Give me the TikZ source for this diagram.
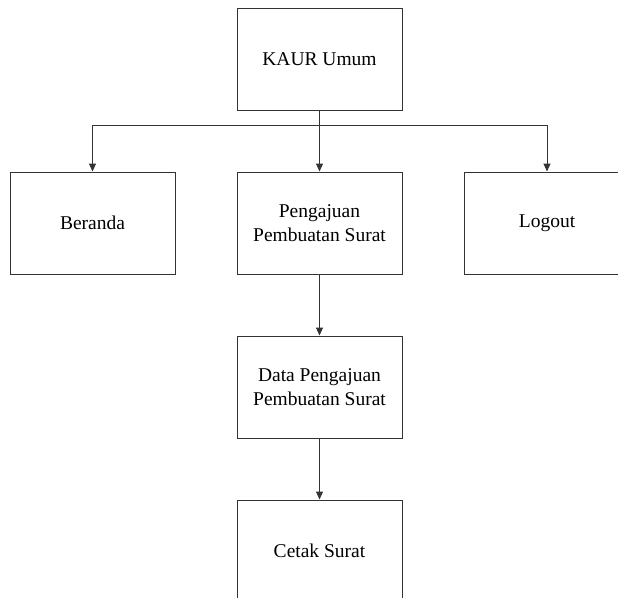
\documentclass[tikz,border=0pt]{standalone}
\usepackage{fontspec}
\setmainfont{Liberation Serif}
\usetikzlibrary{arrows.meta}
\tikzset{
  menubox/.style={draw=black!80, line width=1pt, rectangle, minimum width=165pt,
    minimum height=102pt, inner sep=0pt, align=center,
    font=\fontsize{19.5}{24}\selectfont},
  link/.style={draw=black!80, line width=1pt},
  arrowlink/.style={link, -{Triangle[length=8pt,width=7pt]}}
}
\begin{document}
\begin{tikzpicture}[x=1pt,y=-1pt]
  \useasboundingbox (0,0) rectangle (618,597);
  \node[menubox] (kaur) at (319.5,59) {KAUR Umum};
  \node[menubox] (beranda) at (92.5,223) {Beranda};
  \node[menubox] (pengajuan) at (319.5,223) {Pengajuan\\Pembuatan Surat};
  \node[menubox] (logout) at (547,223) {Logout};
  \node[menubox] (data) at (319.5,387) {Data Pengajuan\\Pembuatan Surat};
  \node[menubox] (cetak) at (319.5,551) {Cetak Surat};
  % branch bus under the top menu
  \coordinate (bus) at (319.5,125.5);
  \draw[arrowlink] (kaur.south) -- (pengajuan.north);
  \draw[arrowlink] (bus) -| (beranda.north);
  \draw[arrowlink] (bus) -| (logout.north);
  \draw[arrowlink] (pengajuan.south) -- (data.north);
  \draw[arrowlink] (data.south) -- (cetak.north);
\end{tikzpicture}
\end{document}
